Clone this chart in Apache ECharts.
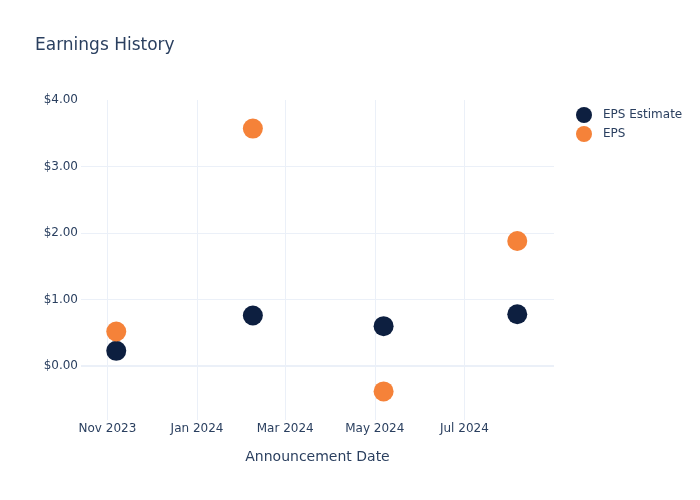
<!DOCTYPE html>
<html>
<head>
<meta charset="utf-8">
<script src="https://cdn.jsdelivr.net/npm/echarts@6/dist/echarts.min.js"></script>
<style>html,body{margin:0;padding:0;background:#fff;}#c{width:700px;height:500px;}</style>
</head>
<body>
<div id="c"></div>
<script>
var dates = ['2023-11-07', '2024-02-08', '2024-05-07', '2024-08-06'];
var epsEstimate = [0.23, 0.76, 0.60, 0.78];
var eps = [0.52, 3.57, -0.38, 1.88];
var xTickDates = ['2023-11-01', '2024-01-01', '2024-03-01', '2024-05-01', '2024-07-01'];
var xTickLabels = ['Nov 2023', 'Jan 2024', 'Mar 2024', 'May 2024', 'Jul 2024'];
var yTicks = [0, 1, 2, 3, 4];
var yGridTicks = [0, 1, 2, 3];

function ts(s) { var p = s.split('-'); return Date.UTC(+p[0], +p[1] - 1, +p[2]); }
var xTickTs = xTickDates.map(ts);
var font = '"DejaVu Sans", "Open Sans", sans-serif';
var txt = '#2a3f5f';

var chart = echarts.init(document.getElementById('c'), null, { renderer: 'canvas' });
chart.setOption({
  animation: false,
  textStyle: { fontFamily: font },
  title: {
    text: 'Earnings History', left: 30, top: 32,
    textStyle: { fontFamily: font, fontSize: 17, fontWeight: 'normal', color: txt }
  },
  legend: {
    orient: 'vertical', left: 571, top: 102, itemWidth: 16, itemHeight: 16, itemGap: 3,
    icon: 'circle',
    textStyle: { fontFamily: font, fontSize: 12, color: txt, padding: [0, 0, 0, 6] },
    data: ['EPS Estimate', 'EPS']
  },
  grid: { left: 81, right: 146, top: 100, bottom: 80, containLabel: false },
  xAxis: {
    type: 'value',
    min: ts('2023-10-14'), max: ts('2024-08-31'),
    name: 'Announcement Date', nameLocation: 'middle', nameGap: 30,
    nameTextStyle: { fontFamily: font, fontSize: 14, color: txt },
    axisLine: { show: false },
    axisTick: { show: false, customValues: xTickTs },
    axisLabel: {
      customValues: xTickTs, margin: 3, fontFamily: font, fontSize: 12, color: txt,
      formatter: function (v) { var i = xTickTs.indexOf(v); return i >= 0 ? xTickLabels[i] : ''; }
    },
    splitLine: { show: true, lineStyle: { color: '#ebf0f8', width: 1 } }
  },
  yAxis: {
    type: 'value', min: -0.81, max: 4,
    axisLine: { show: false },
    axisTick: { show: false, customValues: yGridTicks },
    axisLabel: {
      customValues: yTicks, margin: 3, fontFamily: font, fontSize: 12, color: txt,
      formatter: function (v) { return '$' + v.toFixed(2); }
    },
    splitLine: { show: true, lineStyle: { color: '#ebf0f8', width: 1 } }
  },
  series: [
    {
      name: 'EPS Estimate', type: 'scatter', symbolSize: 20,
      itemStyle: { color: '#0d1f40', opacity: 1 },
      data: dates.map(function (d, i) { return [ts(d), epsEstimate[i]]; }),
      markLine: {
        silent: true, symbol: 'none', label: { show: false },
        lineStyle: { color: '#ebf0f8', width: 2, type: 'solid' },
        data: [{ yAxis: 0 }]
      },
      z: 2
    },
    {
      name: 'EPS', type: 'scatter', symbolSize: 20,
      itemStyle: { color: '#f58239', opacity: 1 },
      data: dates.map(function (d, i) { return [ts(d), eps[i]]; }),
      z: 3
    }
  ]
});
</script>
</body>
</html>
